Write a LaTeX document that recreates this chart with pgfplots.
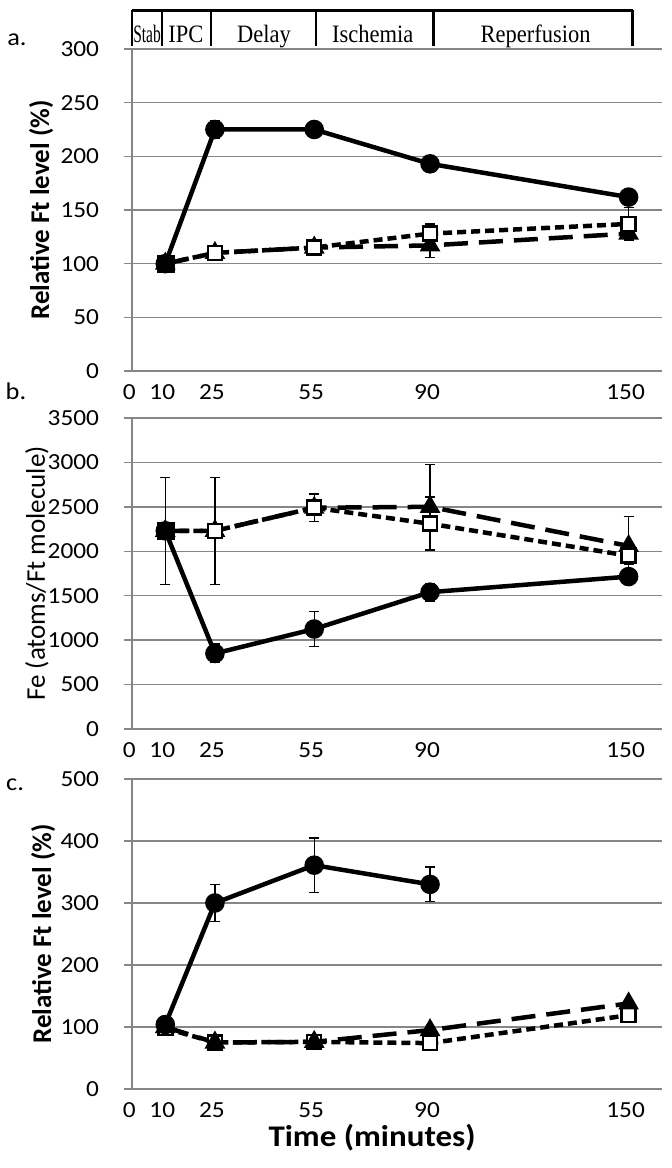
\documentclass[border=0pt]{standalone}
\usepackage{pgfplots}
\pgfplotsset{compat=1.18}
\usepackage{fontspec}
\setmainfont{Carlito}
\newfontfamily\calS[FakeStretch=1.1]{Carlito}
\newfontfamily\timesC[FakeStretch=0.9]{Liberation Serif}
\newfontfamily\timesS[FakeStretch=0.62]{Liberation Serif}
\definecolor{gridc}{RGB}{134,134,134}
\pgfplotsset{
  panel/.style={
    scale only axis, width=529.5pt, xmin=0, xmax=160, ymin=0,
    axis x line*=bottom, axis y line*=left,
    axis line style={gridc, line width=1.5pt},
    ymajorgrids, major grid style={gridc, line width=1.5pt},
    xtick={0,10,25,55,90,150},
    xticklabels={0,10,25,55,90,150},
    x tick style={draw=none},
    y tick style={gridc, line width=1.5pt},
    major tick length=8pt, tick align=outside,
    xticklabel style={font=\calS\fontsize{23}{23}\selectfont, inner sep=0pt, anchor=north, text height=15pt, text depth=0pt, yshift=-5pt, xshift=-3pt},
    yticklabel style={font=\calS\fontsize{23}{23}\selectfont, inner sep=1pt, xshift=-24pt},
    clip=false,
  },
  errb/.style={error bars/y dir=both, error bars/y explicit,
    error bars/error bar style={line width=1.3pt, solid, black},
    error bars/error mark options={rotate=90, mark size=5pt, line width=1.3pt, solid, black}},
  solidS/.style={black, line width=4.5pt, mark=*, mark size=7.5pt, mark options={solid, fill=black}, errb},
  shortS/.style={black, line width=4.5pt, dash pattern=on 9pt off 5pt, mark=square*, mark size=7pt, mark options={solid, fill=white, draw=black, line width=2.5pt}, errb},
  longS/.style={black, line width=4.5pt, dash pattern=on 24pt off 11pt, mark=triangle*, mark size=7.5pt, mark options={solid, fill=black}, errb},
}
\begin{document}
\begin{tikzpicture}
\path[use as bounding box] (0,0) rectangle (672pt,1168pt);
% Panel a
\begin{axis}[panel, at={(132.2pt,797pt)}, anchor=south west, height=322pt, ymax=300,
  ytick={0,50,100,150,200,250,300}, yticklabels={0,50,100,150,200,250,300},
  ylabel={Relative Ft level (\%)},
  ylabel style={at={(axis description cs:-0.172,0.5)}, anchor=center, font=\bfseries\fontsize{27}{27}\selectfont}]
\addplot[solidS] coordinates {(10,100) (25,225) +- (0,8) (55,225) +- (0,6) (90,193) +- (0,6) (150,162) +- (0,7)};
\addplot[longS] coordinates {(10,100) (25,110) (55,115) (90,117) +- (0,11) (150,128) +- (0,6)};
\addplot[shortS] coordinates {(10,100) (25,110) +- (0,4) (55,115) +- (0,4) (90,128) +- (0,9) (150,137) +- (0,15)};
\addplot[only marks, mark=square*, mark size=8.5pt, black] coordinates {(10,100)};
% header
\draw[line width=3.5pt] (axis cs:0,336) -- (axis cs:151.2,336);
\draw[line width=2.5pt] (axis cs:0,336) -- (axis cs:0,302.8);
\draw[line width=2.5pt] (axis cs:9,336) -- (axis cs:9,302.8);
\draw[line width=2.5pt] (axis cs:23.8,336) -- (axis cs:23.8,302.8);
\draw[line width=2.5pt] (axis cs:55.5,336) -- (axis cs:55.5,302.8);
\draw[line width=2.5pt] (axis cs:91.1,336) -- (axis cs:91.1,302.8);
\draw[line width=2.5pt] (axis cs:151.2,336) -- (axis cs:151.2,302.8);
\node[anchor=base, font=\timesS\fontsize{25}{25}\selectfont] at (axis cs:4.5,305.6) {Stab};
\node[anchor=base, font=\timesC\fontsize{25}{25}\selectfont] at (axis cs:16.2,305.6) {IPC};
\node[anchor=base, font=\timesC\fontsize{25}{25}\selectfont] at (axis cs:39.8,305.6) {Delay};
\node[anchor=base, font=\timesC\fontsize{25}{25}\selectfont] at (axis cs:72.7,305.6) {Ischemia};
\node[anchor=base, font=\timesC\fontsize{25}{25}\selectfont] at (axis cs:121.9,305.6) {Reperfusion};
\end{axis}
% Panel b
\begin{axis}[panel, at={(132.2pt,439pt)}, anchor=south west, height=311pt, ymax=3500,
  ytick={0,500,1000,1500,2000,2500,3000,3500}, yticklabels={0,500,1000,1500,2000,2500,3000,3500},
  ylabel={Fe (atoms/Ft molecule)},
  ylabel style={at={(axis description cs:-0.18,0.5)}, anchor=center, font=\fontsize{27}{27}\selectfont}]
\addplot[solidS] coordinates {(10,2230) (25,850) +- (0,105) (55,1125) +- (0,200) (90,1540) +- (0,100) (150,1715) +- (0,40)};
\addplot[longS] coordinates {(10,2230) (25,2230) (55,2490) (90,2500) +- (0,480) (150,2060) +- (0,330)};
\addplot[shortS] coordinates {(10,2230) +- (0,600) (25,2230) +- (0,600) (55,2490) +- (0,155) (90,2310) +- (0,300) (150,1950) +- (0,100)};
\addplot[only marks, mark=square*, mark size=8.5pt, black] coordinates {(10,2230)};
\end{axis}
% Panel c
\begin{axis}[panel, at={(132.2pt,79pt)}, anchor=south west, height=310pt, ymax=500,
  ytick={0,100,200,300,400,500}, yticklabels={0,100,200,300,400,500},
  ylabel={Relative Ft level (\%)},
  ylabel style={at={(axis description cs:-0.168,0.5)}, anchor=center, font=\bfseries\fontsize{27}{27}\selectfont},
  xlabel={Time (minutes)},
  xlabel style={at={(axis description cs:0.453,-0.158)}, anchor=center, inner sep=0pt, font=\calS\bfseries\fontsize{30}{30}\selectfont}]
\addplot[shortS] coordinates {(10,98) (25,75) (55,76) (90,74) +- (0,5) (150,119) +- (0,6)};
\addplot[longS] coordinates {(10,100) (25,75) (55,76) (90,95) +- (0,5) (150,138) +- (0,5)};
\addplot[solidS] coordinates {(10,104) (25,300) +- (0,30) (55,361) +- (0,44) (90,330) +- (0,28)};
\end{axis}
\node[font=\calS\fontsize{24}{24}\selectfont] at (17pt,1128pt) {a.};
\node[font=\calS\fontsize{24}{24}\selectfont] at (16pt,777pt) {b.};
\node[font=\calS\fontsize{24}{24}\selectfont] at (15pt,383pt) {c.};
\end{tikzpicture}
\end{document}
